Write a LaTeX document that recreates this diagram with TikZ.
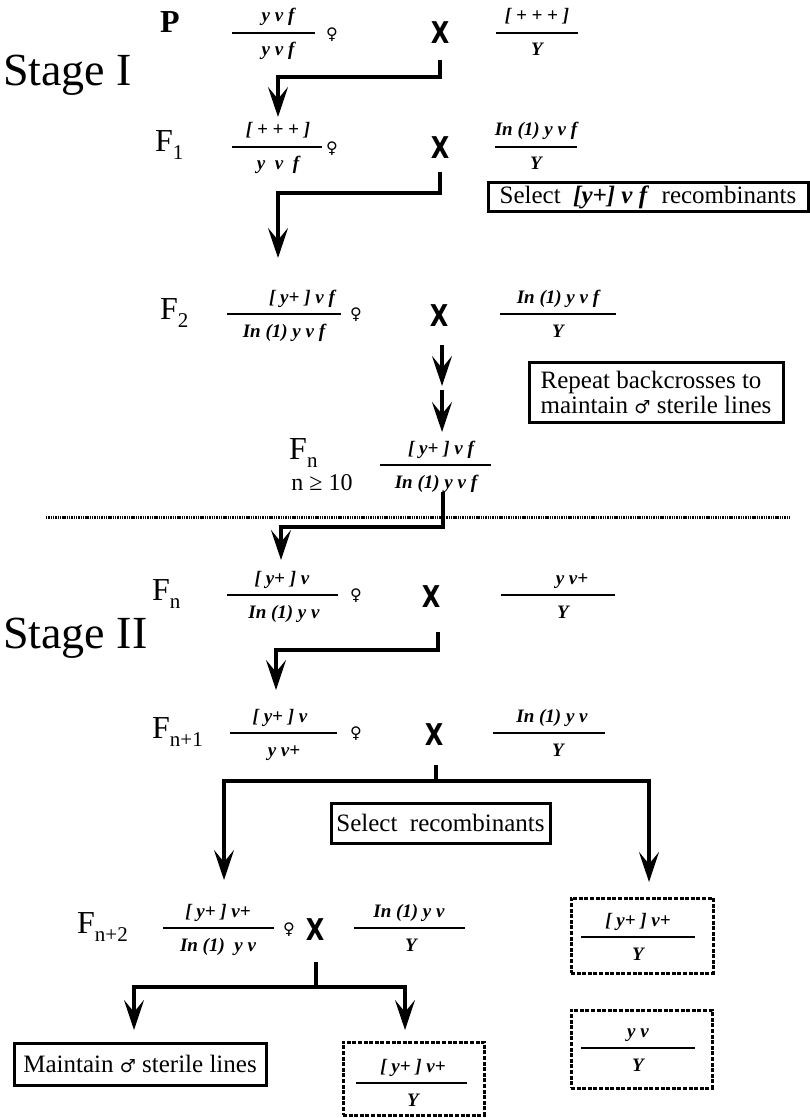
\documentclass[tikz,border=0pt]{standalone}
\usepackage{fontspec}
\setmainfont{Liberation Serif}
\setsansfont{Liberation Sans}
\newfontfamily\symfont{DejaVu Sans}
\usetikzlibrary{arrows.meta}
\tikzset{bigtip/.tip={Stealth[length=30pt,width=20pt,inset=12pt]}}
\newcommand\fs[1]{\fontsize{#1}{#1}\selectfont}
\newcommand\Fsub[1]{F\raisebox{-8pt}{\fs{21}#1}}
\newcommand\crossmark{\scalebox{0.8}[1]{\symfont\bfseries X}}
\newcommand\geno[8]{%
  \draw[fracbar] (#2,#4) -- (#3,#4);
  \node[gt,anchor=base] (#1n) at (#5,#4-11) {#6};
  \node[gt,anchor=base] (#1d) at (#7,#4+23) {#8};}
\begin{document}
\begin{tikzpicture}[x=1pt,y=-1pt,
  gt/.style={font={\fs{19}\bfseries\itshape}, inner sep=0pt},
  lbl/.style={font={\fs{32}}, inner sep=0pt},
  nlbl/.style={font={\fs{24}}, inner sep=0pt},
  stagelbl/.style={font={\fs{46}}, inner sep=0pt, anchor=west},
  crossx/.style={font={\fs{30}}, inner sep=0pt},
  fem/.style={font={\fs{16}\symfont}, inner sep=0pt},
  fracbar/.style={line width=1.6pt},
  conn/.style={line width=3.2pt},
  arr/.style={conn,-bigtip},
  solidbox/.style={draw,line width=3pt,font={\fs{25}},inner sep=3pt,align=left},
  dashbox/.style={draw,line width=3pt,dash pattern=on 4pt off 1.6pt},
  dotline/.style={line width=3pt,dash pattern=on 1.4pt off 0.9pt},
]
\useasboundingbox (0,0) rectangle (810,1118);

% ---- Row P
\node[lbl,anchor=base] (lP) at (170,33) {\bfseries P};
\geno{gPl}{232}{315}{33}{278}{y v f}{278}{y v f}
\node[fem] (fP) at (332,35) {♀};
\node[crossx] (xP) at (440,33) {\crossmark};
\geno{gPr}{496}{578}{33}{537}{[ + + + ]}{537}{Y}
\node[stagelbl] (st1) at (3,75) {Stage I};
\coordinate (k1) at (440,60);
\coordinate (e1) at (278,117);
\draw[arr] (k1) -- ++(0,17) -| (e1);

% ---- Row F1
\node[lbl,anchor=base west] (lF1) at (155,152) {\Fsub{1}};
\geno{gFal}{232}{322}{147}{278}{[ + + + ]}{278}{y \ v \ f}
\node[fem] (fF1) at (332,149) {♀};
\node[crossx] (xF1) at (440,148) {\crossmark};
\geno{gFar}{495}{577}{147}{536}{In (1) y v f}{536}{Y}
\node[solidbox, minimum width=320pt, minimum height=28pt] (sel1) at (648,197) {Select \ \textbf{\textit{[y+] v f}} \ recombinants};
\coordinate (k2) at (440,172);
\coordinate (e2) at (278,258);
\draw[arr] (k2) -- ++(0,21) -| (e2);

% ---- Row F2
\node[lbl,anchor=base west] (lF2) at (160,319) {\Fsub{2}};
\geno{gFbl}{227}{341}{314}{302}{[ y+ ] v f}{284}{In (1) y v f}
\node[fem] (fF2) at (356,315) {♀};
\node[crossx] (xF2) at (439,316) {\crossmark};
\geno{gFbr}{500}{616}{314}{558}{In (1) y v f}{558}{Y}
\coordinate (a1s) at (442,345); \coordinate (a1e) at (442,386);
\coordinate (a2s) at (442,390); \coordinate (a2e) at (442,432);
\draw[arr] (a1s) -- (a1e);
\draw[arr] (a2s) -- (a2e);
\node[solidbox, minimum width=254pt, minimum height=60pt] (rep) at (656,392) {Repeat backcrosses to\\maintain {\symfont\fs{18}♂} sterile lines};

% ---- Row Fn
\node[lbl,anchor=base west] (lFn) at (289,459) {\Fsub{n}};
\node[nlbl,anchor=base] (n10) at (322,490) {n ≥ 10};
\geno{gFn}{380}{491}{465}{441}{[ y+ ] v f}{436}{In (1) y v f}
\draw[dotline] (46,517) -- (790,517);
\coordinate (k3) at (443,492);
\coordinate (e3) at (281,560);
\draw[arr] (k3) -- ++(0,35) -| (e3);

% ---- Row Fn (stage II)
\node[lbl,anchor=base west] (lGa) at (152,600) {\Fsub{n}};
\geno{gGal}{227}{338}{595}{282}{[ y+ ] v}{284}{In (1) y v}
\node[fem] (fGa) at (356,596) {♀};
\node[crossx] (xGa) at (431,597) {\crossmark};
\geno{gGar}{501}{615}{595}{572}{y v+}{563}{Y}
\node[stagelbl] (st2) at (3,638) {Stage II};
\coordinate (k4) at (438,632);
\coordinate (e4) at (276,690);
\draw[arr] (k4) -- ++(0,18) -| (e4);

% ---- Row Fn+1
\node[lbl,anchor=base west] (lGb) at (152,738) {\Fsub{n+1}};
\geno{gGbl}{230}{337}{733}{280}{[ y+ ] v}{284}{y v+}
\node[fem] (fGb) at (356,734) {♀};
\node[crossx] (xGb) at (434,735) {\crossmark};
\geno{gGbr}{493}{605}{733}{552}{In (1) y v}{558}{Y}
\coordinate (k5) at (436,765);
\coordinate (e5l) at (224,880);
\coordinate (e5r) at (649,882);
\draw[conn] (k5) -- ++(0,16) coordinate (b5);
\draw[arr] (b5) -| (e5l);
\draw[arr] (b5) -| (e5r);
\node[solidbox, minimum width=219pt, minimum height=40pt] (sel2) at (440.5,823) {Select \ recombinants};

% ---- Row Fn+2
\node[lbl,anchor=base west] (lGc) at (77,933) {\Fsub{n+2}};
\geno{gGcl}{163}{274}{928}{218}{[ y+ ] v+}{218}{In (1) \ y v}
\node[fem] (fGc) at (289,930) {♀};
\node[crossx] (xGc) at (315,930) {\crossmark};
\geno{gGcr}{354}{465}{928}{409}{In (1) y v}{411}{Y}
\node[dashbox, minimum width=142pt, minimum height=75pt] (d1) at (642,935.5) {};
\geno{gDa}{581}{695}{937}{638}{[ y+ ] v+}{638}{Y}
\coordinate (k6) at (316,962);
\coordinate (e6l) at (134,1030);
\coordinate (e6r) at (405,1030);
\draw[conn] (k6) -- ++(0,25) coordinate (b6);
\draw[arr] (b6) -| (e6l);
\draw[arr] (b6) -| (e6r);
\node[dashbox, minimum width=141pt, minimum height=78pt] (d2) at (641.5,1049) {};
\geno{gDb}{581}{695}{1048}{638}{y v}{638}{Y}
\node[solidbox, minimum width=252pt, minimum height=42pt] (mt) at (140,1064) {Maintain {\symfont\fs{18}♂} sterile lines};
\node[dashbox, minimum width=141pt, minimum height=73pt] (d3) at (413.5,1078.5) {};
\geno{gDc}{356}{467}{1083}{413}{[ y+ ] v+}{413}{Y}
\end{tikzpicture}
\end{document}
